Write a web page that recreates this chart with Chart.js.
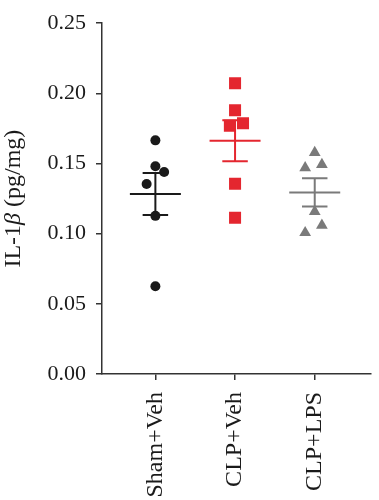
<!DOCTYPE html>
<html>
<head>
<meta charset="utf-8">
<script src="https://cdn.jsdelivr.net/npm/chart.js@4.4.1/dist/chart.umd.min.js"></script>
<style>
  html, body { margin: 0; padding: 0; background: #ffffff; }
  #wrap { width: 379px; height: 500px; }
</style>
</head>
<body>
<div id="wrap"><canvas id="c" width="379" height="500"></canvas></div>
<script>
// ---- data ----
const categories = ['Sham+Veh', 'CLP+Veh', 'CLP+LPS'];
const shamVeh = [0.1665, 0.1481, 0.1440, 0.1354, 0.1127, 0.0625];
const clpVeh  = [0.2072, 0.1880, 0.1769, 0.1787, 0.1356, 0.1113];
const clpLps  = [0.1578, 0.1470, 0.1493, 0.1158, 0.1060, 0.1007];
// horizontal scatter offsets of the dots (category units)
const shamJitter = [0, 0, 0.11, -0.11, 0, 0];
const clpVehJitter = [0, 0, -0.065, 0.10, 0, 0];
const clpLpsJitter = [0, -0.12, 0.09, 0, 0.09, -0.12];
const yTicks = [0, 0.05, 0.10, 0.15, 0.20, 0.25];
const yTitleParts = ['IL-1', 'β', ' (pg/mg)'];

// ---- styling ----
const colors = ['#1a1a1a', '#e4262f', '#7a7a7a'];
const pointStyles = ['circle', 'rect', 'triangle'];
const pointRadii = [5, 8.5, 6.8];
const MEAN_HALF = 0.32, CAP_HALF = 0.16;
const FONT = 'Liberation Serif';
const TEXT = '#1a1a1a';

function mean(a) { return a.reduce((s, v) => s + v, 0) / a.length; }
function sem(a) {
  const m = mean(a);
  const v = a.reduce((s, x) => s + (x - m) * (x - m), 0) / (a.length - 1);
  return Math.sqrt(v / a.length);
}

const groups = [shamVeh, clpVeh, clpLps];
const jitters = [shamJitter, clpVehJitter, clpLpsJitter];
const datasets = [];

groups.forEach((vals, i) => {
  const xc = i + 1;
  const m = mean(vals), s = sem(vals);
  const lineBase = {
    showLine: true, pointRadius: 0, borderColor: colors[i], borderWidth: 2,
    backgroundColor: colors[i], spanGaps: false, order: 2
  };
  datasets.push(Object.assign({
    data: [{ x: xc - MEAN_HALF, y: m }, { x: xc + MEAN_HALF, y: m }]
  }, lineBase));
  datasets.push(Object.assign({
    data: [
      { x: xc - CAP_HALF, y: m + s }, { x: xc + CAP_HALF, y: m + s }, { x: xc, y: null },
      { x: xc, y: m + s }, { x: xc, y: m - s }, { x: xc, y: null },
      { x: xc - CAP_HALF, y: m - s }, { x: xc + CAP_HALF, y: m - s }
    ]
  }, lineBase));
  datasets.push({
    data: vals.map((v, k) => ({ x: xc + jitters[i][k], y: v })),
    showLine: false,
    pointStyle: pointStyles[i],
    pointRadius: pointRadii[i],
    pointBackgroundColor: colors[i],
    pointBorderColor: colors[i],
    pointBorderWidth: 0,
    order: 1
  });
});

const yTitlePlugin = {
  id: 'yTitle',
  afterDraw(chart) {
    const ctx = chart.ctx, a = chart.chartArea;
    ctx.save();
    ctx.translate(20, (a.top + a.bottom) / 2);
    ctx.rotate(-Math.PI / 2);
    ctx.fillStyle = TEXT;
    ctx.textBaseline = 'alphabetic';
    const fonts = ['24px "' + FONT + '"', 'italic 24px "' + FONT + '"', '24px "' + FONT + '"'];
    let total = 0;
    const widths = yTitleParts.map((t, k) => { ctx.font = fonts[k]; const w = ctx.measureText(t).width; total += w; return w; });
    let x = -total / 2;
    yTitleParts.forEach((t, k) => { ctx.font = fonts[k]; ctx.fillText(t, x, 0); x += widths[k]; });
    ctx.restore();
  }
};

new Chart(document.getElementById('c'), {
  type: 'scatter',
  data: { datasets },
  plugins: [yTitlePlugin],
  options: {
    responsive: false,
    animation: false,
    layout: { padding: { top: 14, right: 0, bottom: 0, left: 0 } },
    plugins: { legend: { display: false }, tooltip: { enabled: false } },
    scales: {
      x: {
        type: 'linear', min: 0.33, max: 3.7,
        afterBuildTicks(scale) { scale.ticks = categories.map((c, i) => ({ value: i + 1 })); },
        afterFit(scale) { scale.height = 126; },
        ticks: {
          callback: (v) => categories[Math.round(v) - 1],
          minRotation: 90, maxRotation: 90, autoSkip: false,
          color: TEXT, padding: 12,
          font: { family: FONT, size: 24 }
        },
        grid: { drawOnChartArea: false, drawTicks: true, tickLength: 6, color: '#333', lineWidth: 1.5 },
        border: { display: true, color: '#333', width: 1.5 }
      },
      y: {
        type: 'linear', min: 0, max: 0.25,
        afterBuildTicks(scale) { scale.ticks = yTicks.map(v => ({ value: v })); },
        afterFit(scale) { scale.width = 102; },
        ticks: {
          callback: (v) => Number(v).toFixed(2),
          color: TEXT, padding: 10,
          font: { family: FONT, size: 22 }
        },
        grid: { drawOnChartArea: false, drawTicks: true, tickLength: 6, color: '#333', lineWidth: 1.5 },
        border: { display: true, color: '#333', width: 1.5 }
      }
    }
  }
});
</script>
</body>
</html>
